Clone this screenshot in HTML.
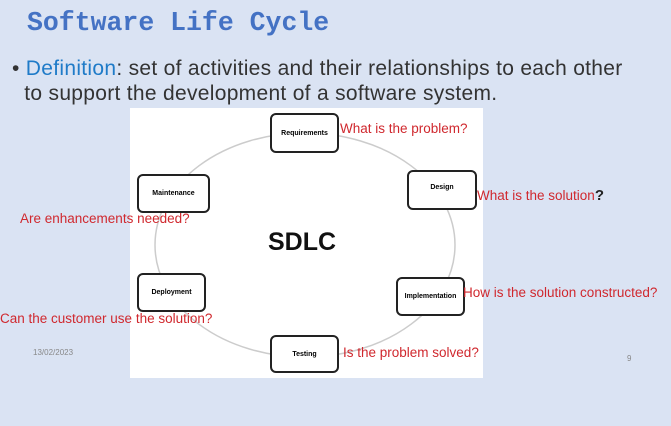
<!DOCTYPE html>
<html><head><style>
body{margin:0;width:671px;height:426px;background:#dae3f3;position:relative;overflow:hidden;font-family:"Liberation Sans",sans-serif}
.t{position:absolute;white-space:nowrap}
.box{position:absolute;border:2px solid #222;border-radius:6px;background:#fff;font-size:7px;font-weight:bold;display:flex;align-items:center;justify-content:center;box-sizing:border-box}
.r{position:absolute;color:#d0282e;font-size:13.5px;white-space:nowrap}
</style></head><body>
<div class="t" style="left:27px;top:8px;font-family:'Liberation Mono',monospace;font-weight:bold;font-size:26.5px;color:#4472c4">Software Life Cycle</div>
<div class="t" style="left:12px;top:56px;font-size:21px;letter-spacing:0.3px;color:#333;line-height:25px">• <span style="color:#1f7bc8">Definition</span>: set of activities and their relationships to each other<br>&nbsp;&nbsp;to support the development of a software system.</div>
<div style="position:absolute;left:130px;top:108px;width:353px;height:270px;background:#fff"></div>
<svg style="position:absolute;left:0;top:0" width="671" height="426"><ellipse cx="305" cy="245" rx="150" ry="112" fill="none" stroke="#ccc" stroke-width="1.5"/></svg>
<div class="t" style="left:268px;top:228px;font-size:25px;font-weight:bold;color:#111">SDLC</div>
<div class="box" style="left:270px;top:113px;width:69px;height:40px">Requirements</div>
<div class="box" style="left:137px;top:174px;width:73px;height:39px">Maintenance</div>
<div class="box" style="left:407px;top:170px;width:70px;height:40px;align-items:flex-start;padding-top:12px">Design</div>
<div class="box" style="left:396px;top:277px;width:69px;height:39px">Implementation</div>
<div class="box" style="left:137px;top:273px;width:69px;height:39px">Deployment</div>
<div class="box" style="left:270px;top:335px;width:69px;height:38px">Testing</div>
<div class="r" style="left:340px;top:121px">What is the problem?</div>
<div class="r" style="left:477px;top:187px">What is the solution<b style="color:#222;font-size:15px">?</b></div>
<div class="r" style="left:20px;top:211px">Are enhancements needed?</div>
<div class="r" style="left:463px;top:285px">How is the solution constructed?</div>
<div class="r" style="left:0px;top:311px">Can the customer use the solution?</div>
<div class="r" style="left:343px;top:345px">Is the problem solved?</div>
<div class="t" style="left:33px;top:348px;font-size:8px;color:#888">13/02/2023</div>
<div class="t" style="left:627px;top:354px;font-size:8px;color:#888">9</div>
</body></html>
